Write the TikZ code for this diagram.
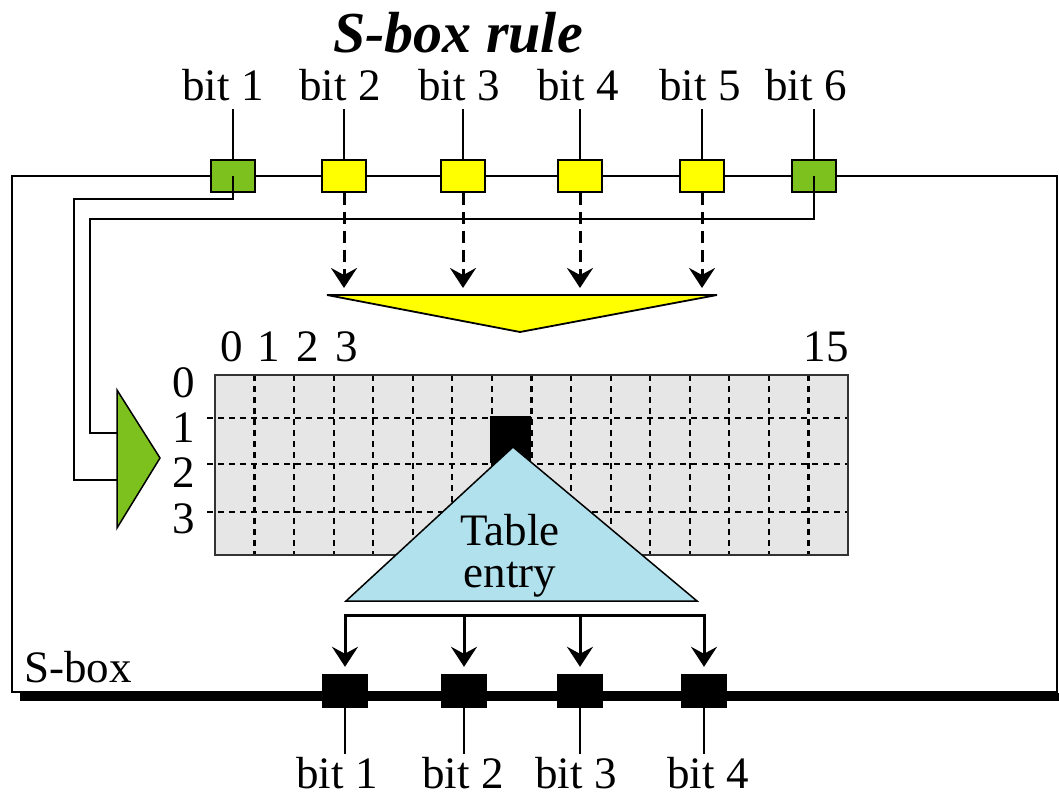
\documentclass[tikz,border=0pt]{standalone}
\usepackage{fontspec}
\setmainfont{Liberation Serif}
\usetikzlibrary{arrows.meta}
\definecolor{boxgreen}{RGB}{124,193,30}
\definecolor{bityellow}{RGB}{255,255,0}
\definecolor{entryblue}{RGB}{176,225,236}
\definecolor{gridgray}{RGB}{230,230,230}
\tikzset{
  lbl/.style={font=\fontsize{45}{50}\selectfont, inner sep=0},
  inbit/.style={draw, line width=1.5pt, minimum width=44pt, minimum height=32pt, inner sep=0},
  outbit/.style={fill=black, minimum width=46pt, minimum height=34pt, inner sep=0},
  wire/.style={line width=1.5pt},
  tickline/.style={line width=1.3pt},
  gridline/.style={line width=2.2pt, dash pattern=on 6pt off 5pt},
  selarrow/.style={line width=3pt, dash pattern=on 12pt off 7pt, -{Stealth[length=20pt,width=26pt,inset=7pt]}},
  outarrow/.style={line width=3pt, -{Stealth[length=20pt,width=26pt,inset=7pt]}}
}
\begin{document}
\begin{tikzpicture}[x=1pt,y=-1pt]
\useasboundingbox (0,0) rectangle (1059,797);

% title
\node[font=\fontsize{58}{60}\selectfont\bfseries\itshape, inner sep=0] (title) at (458,33) {S-box rule};

% S-box frame with heavy bottom edge
\draw[wire] (12,692) -- (12,176) -- (1057,176) -- (1057,692) -- cycle;
\draw[line width=8pt] (20,697) -- (1059,697);
\node[lbl] (sboxlbl) at (78,667) {S-box};

% input bit labels
\node[lbl] (l1) at (223,85) {bit 1};
\node[lbl] (l2) at (340,85) {bit 2};
\node[lbl] (l3) at (459,85) {bit 3};
\node[lbl] (l4) at (578,85) {bit 4};
\node[lbl] (l5) at (700,85) {bit 5};
\node[lbl] (l6) at (806,85) {bit 6};

% input bit boxes
\node[inbit, fill=boxgreen]  (in1) at (233,176) {};
\node[inbit, fill=bityellow] (in2) at (344,176) {};
\node[inbit, fill=bityellow] (in3) at (463,176) {};
\node[inbit, fill=bityellow] (in4) at (580,176) {};
\node[inbit, fill=bityellow] (in5) at (702,176) {};
\node[inbit, fill=boxgreen]  (in6) at (814,176) {};

\foreach \i in {1,...,6} {
  \draw[tickline] (in\i.north |- 0,109) -- (in\i.north);
}

% column selector funnel
\draw[line width=1.8pt, fill=bityellow] (327,295) -- (717,295) -- (520,332) -- cycle;
\coordinate (f2) at (344,288);
\coordinate (f3) at (463,288);
\coordinate (f4) at (580,288);
\coordinate (f5) at (702,288);

% row selector (outer bits)
\draw[line width=1.5pt, fill=boxgreen] (117,390) -- (160,458) -- (117,528) -- cycle;
\coordinate (m1) at (117,480);
\coordinate (m6) at (117,433);
\draw[wire] (in1.center) -- (233,199) -- (74,199) -- (74,480) -- (m1);
\draw[wire] (in6.center) -- (814,219) -- (90,219) -- (90,433) -- (m6);

% middle bits to the funnel
\foreach \i in {2,...,5} {
  \draw[selarrow] (in\i.south) -- (f\i);
}

% table
\fill[gridgray] (215,375) rectangle (848,555);
\foreach \k in {1,...,15} {
  \draw[gridline] (215+\k*39.5625,375) -- (215+\k*39.5625,555);
}
\foreach \r in {418,464,512} {
  \draw[gridline] (207,\r) -- (848,\r);
}
\draw[line width=1.2pt, draw=black!80] (215,375) rectangle (848,555);

% column numbers
\node[lbl] (c0) at (232,347) {0};
\node[lbl] (c1) at (269,347) {1};
\node[lbl] (c2) at (308,347) {2};
\node[lbl] (c3) at (347,347) {3};
\node[lbl] (c15) at (826,347) {15};

% row numbers
\node[lbl] (r0) at (184,383) {0};
\node[lbl] (r1) at (184,428) {1};
\node[lbl] (r2) at (184,473) {2};
\node[lbl] (r3) at (184,519) {3};

% selected cell and its entry
\fill[black] (490,416) rectangle (531,463);
\draw[line width=1.5pt, fill=entryblue] (513,447) -- (697,601) -- (346,601) -- cycle;
\node[lbl] (tab) at (510,530) {Table};
\node[lbl] (ent) at (510,580) {entry};

% output bits
\node[outbit] (out1) at (345,691) {};
\node[outbit] (out2) at (464,691) {};
\node[outbit] (out3) at (580,691) {};
\node[outbit] (out4) at (704,691) {};

\coordinate (b1) at (345,615);
\coordinate (b2) at (464,615);
\coordinate (b3) at (580,615);
\coordinate (b4) at (704,615);
\draw[line width=3pt, line cap=rect] (b1) -- (b4);
\foreach \i in {1,...,4} {
  \draw[outarrow, shorten >=7pt] (b\i) -- (out\i.north);
}

\foreach \i in {1,...,4} {
  \draw[tickline] (out\i.south) -- (out\i.south |- 0,754);
}

\node[lbl] (o1) at (337,773) {bit 1};
\node[lbl] (o2) at (463,773) {bit 2};
\node[lbl] (o3) at (576,773) {bit 3};
\node[lbl] (o4) at (708,773) {bit 4};
\end{tikzpicture}
\end{document}
